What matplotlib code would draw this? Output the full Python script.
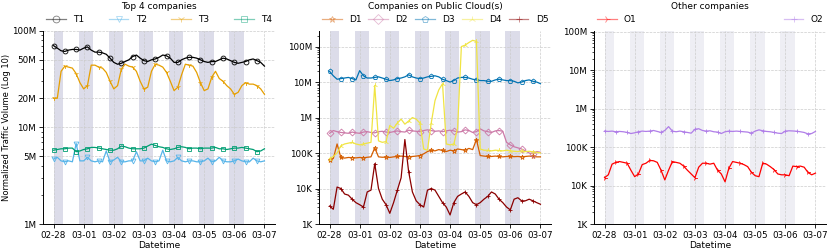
import numpy as np
import pandas as pd
import matplotlib
matplotlib.use('Agg')
import matplotlib.pyplot as plt
import matplotlib.dates as mdates
from matplotlib.ticker import FixedLocator, FuncFormatter, NullFormatter, LogLocator

# 3-hourly samples, 2023-02-28 00:00 .. 2023-03-07 00:00
times = pd.date_range('2023-02-28', periods=57, freq='3h')

# Top 4 companies (millions)
t1 = [70, 66, 62, 61, 63, 64, 64, 63,
      66, 68, 63, 60, 60, 59, 57, 52,
      47, 45, 46, 48, 50, 54, 56, 52,
      49, 48, 50, 51, 53, 56, 55, 52,
      47, 47, 50, 52, 53, 53, 52, 50,
      48, 47, 48, 48, 50, 52, 51, 49,
      47, 46, 47, 48, 50, 51, 49, 47,
      43]
t2 = [4.7, 4.9, 4.5, 4.4, 4.5, 4.4, 6.8, 4.5,
      4.5, 4.9, 4.5, 4.4, 4.5, 4.4, 5.7, 4.4,
      4.6, 4.9, 4.4, 4.4, 4.5, 4.5, 5.6, 4.5,
      4.5, 4.8, 4.5, 4.4, 4.5, 5.8, 4.5, 4.4,
      4.5, 4.9, 4.5, 4.4, 4.5, 4.5, 4.4, 4.4,
      4.5, 4.8, 4.4, 4.5, 4.9, 4.5, 4.4, 4.4,
      4.5, 4.7, 4.5, 4.4, 4.4, 4.8, 4.5, 4.4,
      4.5]
t3 = [20, 20, 38, 43, 42, 41, 36, 29,
      25, 27, 44, 44, 42, 41, 37, 30,
      25, 27, 40, 45, 43, 42, 38, 30,
      25, 26, 38, 45, 44, 42, 37, 30,
      24, 26, 35, 45, 44, 43, 37, 29,
      24, 25, 33, 38, 32, 30, 27, 25,
      22, 23, 27, 29, 28, 28, 27, 25,
      22]
t4 = [5.8, 5.9, 6.0, 6.0, 6.1, 6.1, 5.6, 5.7,
      5.9, 6.0, 6.2, 6.2, 6.1, 6.0, 5.9, 5.8,
      5.8, 6.0, 6.4, 6.3, 6.1, 6.0, 6.0, 6.0,
      6.1, 6.4, 6.7, 6.5, 6.3, 6.2, 6.0, 5.9,
      6.0, 6.2, 6.3, 6.2, 6.0, 6.1, 6.1, 6.0,
      6.1, 6.1, 6.1, 6.2, 6.0, 6.0, 5.9, 6.0,
      6.1, 6.1, 6.2, 6.1, 6.0, 5.9, 5.6, 5.7,
      6.0]

# Companies on public cloud (thousands)
d1 = [65, 70, 180, 75, 72, 75, 74, 73,
      75, 73, 76, 78, 140, 78, 76, 77,
      75, 78, 80, 82, 80, 78, 80, 82,
      85, 95, 110, 120, 115, 125, 118, 110,
      120, 115, 130, 125, 120, 135, 125, 240,
      85, 82, 80, 80, 82, 80, 78, 80,
      80, 79, 80, 78, 80, 82, 80, 78,
      78]
d2 = [360, 430, 400, 380, 370, 360, 390, 370,
      360, 390, 400, 380, 370, 400, 410, 390,
      380, 400, 420, 400, 390, 440, 420, 410,
      400, 430, 450, 430, 410, 420, 400, 420,
      440, 420, 390, 400, 450, 430, 380, 400,
      480, 420, 400, 380, 420, 430, 410, 200,
      170, 150, 140, 130, 115, 100, 95, 110,
      105]
d3 = [20000, 15000, 12000, 12500, 13000, 13500, 12500, 11500,
      21000, 15000, 13000, 13000, 13500, 14000, 13000, 12000,
      11000, 11500, 12500, 13000, 14000, 16000, 14000, 13000,
      12500, 13000, 14000, 14500, 15000, 14000, 12000, 11000,
      10000, 11000, 13000, 13500, 13500, 13000, 12000, 11500,
      11000, 11000, 10500, 10500, 11500, 12000, 11500, 11000,
      11000, 10500, 9500, 10000, 11000, 11500, 10500, 10000,
      9000]
d4 = [70, 80, 100, 160, 180, 190, 200, 180,
      170, 180, 190, 200, 8000, 220, 200, 210,
      600, 500, 700, 900, 650, 800, 1000, 900,
      700, 130, 120, 700, 3000, 6000, 9000, 180,
      170, 180, 500, 100000, 110000, 130000, 150000, 140000,
      130, 120, 120, 115, 120, 118, 115, 120,
      115, 112, 110, 115, 110, 112, 108, 105,
      100]
d5 = [3.2, 2.6, 11, 10, 7, 6.5, 5, 4,
      3.5, 3, 8, 9, 50, 10, 5, 3.5,
      2, 4, 9, 20, 240, 30, 8, 4.5,
      3.5, 3, 9, 10, 9, 6, 4, 3,
      1.8, 4, 6, 7, 8, 6, 4, 3.5,
      4, 5, 6, 8, 7, 5, 4, 3,
      2.5, 5, 5.5, 4.5, 4.5, 5, 4.5, 4,
      3.6]

# Other companies (thousands)
o1 = [16, 19, 36, 40, 42, 40, 38, 25,
      17, 20, 35, 38, 45, 44, 40, 25,
      14, 25, 42, 40, 38, 32, 25, 20,
      16, 30, 38, 38, 36, 38, 25, 20,
      12.5, 28, 42, 40, 38, 35, 31, 22,
      18, 17, 38, 36, 31, 26, 20, 19,
      19, 18, 32, 31, 32, 30, 22, 19,
      21]
o2 = [260, 255, 260, 250, 255, 250, 240, 225,
      235, 250, 260, 255, 260, 270, 255, 240,
      270, 340, 260, 250, 260, 250, 240, 230,
      290, 300, 270, 260, 265, 250, 245, 225,
      250, 260, 255, 260, 255, 250, 245, 230,
      260, 280, 265, 255, 250, 240, 230, 225,
      260, 265, 262, 258, 250, 240, 220, 225,
      255]

panels = [
    ('Top 4 companies', 1e6, [
        ('T1', t1, 'black', 'o'),
        ('T2', t2, '#56B4E9', 'v'),
        ('T3', t3, '#E69F00', '1'),
        ('T4', t4, '#009E73', 's')]),
    ('Companies on Public Cloud(s)', 1e3, [
        ('D1', d1, '#D55E00', '*'),
        ('D2', d2, '#CC79A7', 'D'),
        ('D3', d3, '#0072B2', 'p'),
        ('D4', d4, '#F0E442', '2'),
        ('D5', d5, '#8B0000', '+')]),
    ('Other companies', 1e3, [
        ('O1', o1, '#FF0000', '4'),
        ('O2', o2, '#B07EE8', '+')]),
]
ylims = [(1e6, 1e8), (1e3, 2.8e8), (1e3, 1.06e8)]
band_alpha = [0.15, 0.15, 0.07]


def human(v, pos):
    if v >= 1e6:
        return '%gM' % (v / 1e6)
    if v >= 1e3:
        return '%gK' % (v / 1e3)
    return '%g' % v


fig = plt.figure(figsize=(8.3, 2.49), dpi=100)
lefts = [43, 319, 594]
day0 = pd.Timestamp('2023-02-28')

for k, (title, scale, series) in enumerate(panels):
    ax = fig.add_axes([lefts[k] / 830, 25 / 249, 232 / 830, 193.3 / 249])
    for name, vals, color, marker in series:
        ax.plot(times, np.array(vals) * scale, color=color, marker=marker,
                markevery=3, markersize=3.5, markerfacecolor='none',
                markeredgewidth=0.6, linewidth=0.9, label=name)

    # night bands
    for d in range(7):
        s = day0 + pd.Timedelta(days=d) - pd.Timedelta(hours=4)
        e = day0 + pd.Timedelta(days=d) + pd.Timedelta(hours=7.5)
        if d == 0:
            s = day0
        ax.axvspan(s, e, color='midnightblue', alpha=band_alpha[k], lw=0, zorder=0)

    ax.set_yscale('log')
    ax.set_ylim(*ylims[k])
    if k == 0:
        ax.yaxis.set_major_locator(FixedLocator([1e6, 5e6, 1e7, 2e7, 5e7, 1e8]))
    else:
        ax.yaxis.set_major_locator(LogLocator(base=10))
    ax.yaxis.set_major_formatter(FuncFormatter(human))
    ax.yaxis.set_minor_formatter(NullFormatter())

    ax.xaxis.set_major_locator(mdates.DayLocator())
    ax.xaxis.set_major_formatter(mdates.DateFormatter('%m-%d'))
    ax.grid(True, which='major', linestyle='--', linewidth=0.5, color='#cccccc')
    ax.set_axisbelow(True)
    for sp in ['top', 'right']:
        ax.spines[sp].set_visible(False)
    for sp in ['left', 'bottom']:
        ax.spines[sp].set_linewidth(0.7)
    ax.tick_params(labelsize=6.3, length=3, width=0.6, pad=2)
    ax.tick_params(which='minor', length=1.5, width=0.5)
    ax.set_xlabel('Datetime', fontsize=6.5, labelpad=1)
    if k == 0:
        ax.set_ylabel('Normalized Traffic Volume (Log 10)', fontsize=6)
        ax.yaxis.set_label_coords(-0.14, 0.5)

    leg = ax.legend(title=title, loc='lower left', bbox_to_anchor=(0, 1.02, 1, 0.2),
                    mode='expand', ncol=len(series), frameon=False, fontsize=6.5,
                    title_fontsize=6.5, borderaxespad=0.2, handlelength=2.2,
                    handletextpad=0.8, borderpad=0.1, markerscale=1.4)
    for h in leg.legend_handles:
        h.set_alpha(0.5)

fig.savefig('out.png', dpi=100)
